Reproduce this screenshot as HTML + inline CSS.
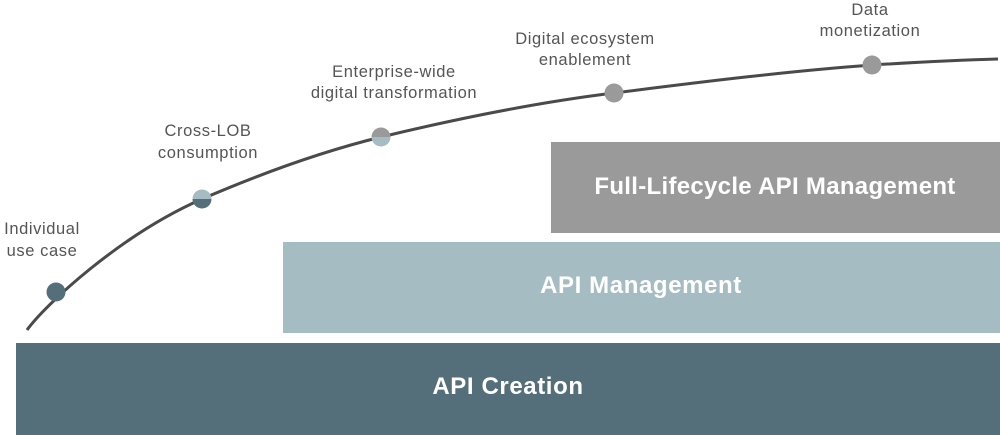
<!DOCTYPE html>
<html><head><style>
html,body{margin:0;padding:0;background:#fff;width:1000px;height:435px;overflow:hidden}
</style></head><body>
<svg width="1000" height="435" viewBox="0 0 1000 435" xmlns="http://www.w3.org/2000/svg" font-family="Liberation Sans, sans-serif">
<rect x="16" y="343" width="984" height="92" fill="#546f79"/>
<rect x="283" y="242" width="717" height="91" fill="#a5bdc2"/>
<rect x="551" y="142" width="449" height="91" fill="#9a9a9a"/>
<text x="508" y="394" fill="#fff" font-size="24" font-weight="bold" text-anchor="middle" letter-spacing="0.6">API Creation</text>
<text x="641" y="293" fill="#fff" font-size="24" font-weight="bold" text-anchor="middle" letter-spacing="0.6">API Management</text>
<text x="775" y="194" fill="#fff" font-size="24" font-weight="bold" text-anchor="middle" letter-spacing="0.3">Full-Lifecycle API Management</text>
<path d="M27,330 C45,305 120,235 202,199 C260,174 320,152 381,137 C460,118 540,102 614,93 C700,82 790,71 872,65 C920,62 960,60 998,59" fill="none" stroke="#4a4a4a" stroke-width="3"/>
<circle cx="56" cy="292" r="9.5" fill="#546f79"/>
<path d="M192.5,199 A9.5,9.5 0 0 1 211.5,199 Z" fill="#a5bdc2"/>
<path d="M192.5,199 A9.5,9.5 0 0 0 211.5,199 Z" fill="#546f79"/>
<path d="M371.5,137 A9.5,9.5 0 0 1 390.5,137 Z" fill="#9a9a9a"/>
<path d="M371.5,137 A9.5,9.5 0 0 0 390.5,137 Z" fill="#a5bdc2"/>
<circle cx="614" cy="93" r="9.5" fill="#9a9a9a"/>
<circle cx="872" cy="65" r="9.5" fill="#9a9a9a"/>
<g fill="#555" font-size="16.5" text-anchor="middle" letter-spacing="0.6">
<text x="42" y="234">Individual</text><text x="42" y="256">use case</text>
<text x="208" y="136">Cross-LOB</text><text x="208" y="158">consumption</text>
<text x="394" y="77">Enterprise-wide</text><text x="394" y="98">digital transformation</text>
<text x="585" y="44">Digital ecosystem</text><text x="585" y="65">enablement</text>
<text x="870" y="15">Data</text><text x="870" y="36">monetization</text>
</g>
</svg>
</body></html>
